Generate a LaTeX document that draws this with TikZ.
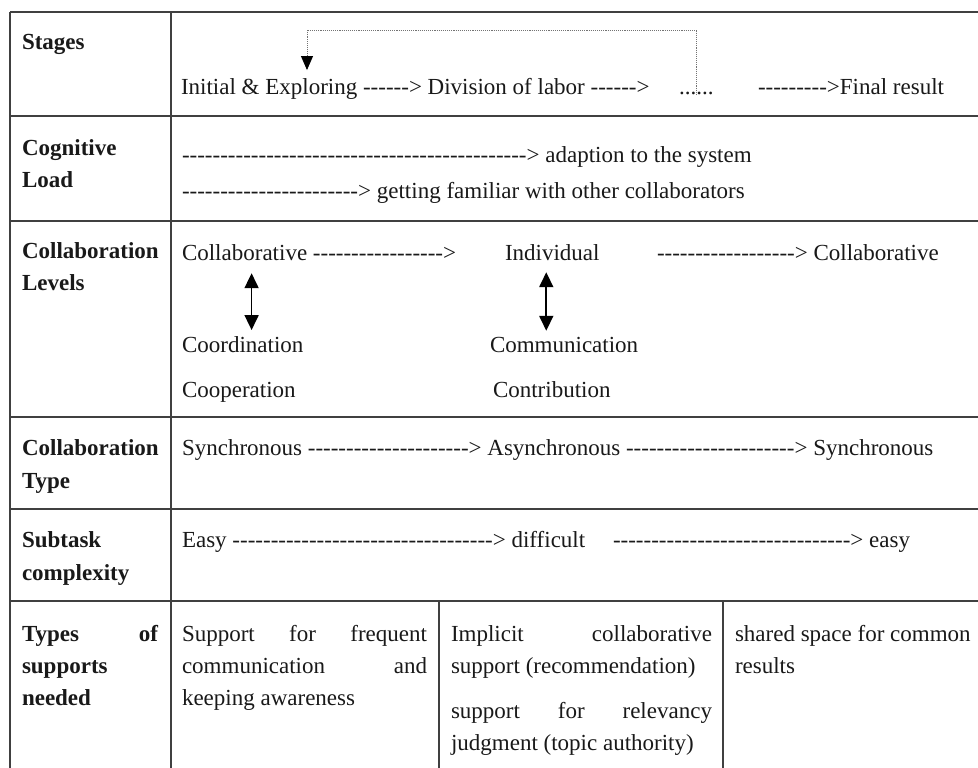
\documentclass[tikz,border=0pt]{standalone}
\usepackage{fontspec}
\setmainfont{Liberation Serif}[Ligatures=TeXOff]
\usetikzlibrary{arrows.meta}
\ExplSyntaxOn
\NewDocumentCommand\dsh{m}{\prg_replicate:nn{#1}{-}}
\ExplSyntaxOff
\begin{document}
\begin{tikzpicture}[x=1pt,y=-1pt,
  txt/.style={anchor=base west, inner sep=0pt, outer sep=0pt,
    font=\fontsize{23}{28}\selectfont, text=black!90},
  hdr/.style={txt, font=\fontsize{23}{28}\selectfont\bfseries},
  rule/.style={line width=1.5pt, draw=black!75},
  loopline/.style={densely dotted, line width=0.9pt, draw=black!55},
  vlink/.style={line width=1.8pt, draw=black,
    {Triangle[length=15pt,width=14pt]}-{Triangle[length=15pt,width=14pt]}},
]
\clip (0,0) rectangle (978,768);
\fill[white] (0,0) rectangle (978,768);

% table rules
\draw[rule] (10,12) -- (990,12);
\foreach \yy in {116,221,417,509,601} \draw[rule] (10,\yy) -- (990,\yy);
\draw[rule] (10,12) -- (10,780);
\draw[rule] (171,12) -- (171,780);
\draw[rule] (439,601) -- (439,780);
\draw[rule] (723,601) -- (723,780);

% row headings
\node[hdr] (hStages) at (22,50) {Stages};
\node[hdr] (hCogA) at (22,155) {Cognitive};
\node[hdr] (hCogB) at (22,187) {Load};
\node[hdr] (hLevA) at (22,258) {Collaboration};
\node[hdr] (hLevB) at (22,290) {Levels};
\node[hdr] (hTypA) at (22,455) {Collaboration};
\node[hdr] (hTypB) at (22,488) {Type};
\node[hdr] (hSubA) at (22,547) {Subtask};
\node[hdr] (hSubB) at (22,580) {complexity};
\node[hdr] (hSupA) at (22,641) {\makebox[136pt][s]{Types of}};
\node[hdr] (hSupB) at (22,673) {supports};
\node[hdr] (hSupC) at (22,705) {needed};

% stages
\node[txt] (init) at (181,95) {Initial \& Exploring};
\node[txt] (div) at (init.base east) {\ \dsh{6}> Division of labor \dsh{6}>};
\node[txt] (dots) at (679,95) {......};
\node[txt] (final) at (758,95) {\dsh{9}>Final result};
\coordinate (loopL) at (307,30);
\draw[loopline,-{Triangle[length=14pt,width=12pt,color=black]}]
  (dots.base) |- (loopL) -- ([yshift=9pt]loopL |- init.north);

% cognitive load
\node[txt] (adapt) at (182,162) {\dsh{45}> adaption to the system};
\node[txt] (famil) at (182,198) {\dsh{23}> getting familiar with other collaborators};

% collaboration levels
\node[txt] (collabA) at (182,260) {Collaborative};
\node[txt] (toIndiv) at (collabA.base east) {\ \dsh{17}>};
\node[txt] (indiv) at (505,260) {Individual};
\node[txt] (collabB) at (657,260) {\dsh{18}> Collaborative};
\node[txt] (coord) at (182,352) {Coordination};
\node[txt] (coop) at (182,397) {Cooperation};
\node[txt] (comm) at (490,352) {Communication};
\node[txt] (contr) at (493,397) {Contribution};
\draw[vlink] ([xshift=7pt,yshift=-13pt]collabA.south)
  -- ([xshift=7pt,yshift=6pt]collabA.south |- coord.north);
\draw[vlink] ([xshift=-6pt,yshift=-12pt]indiv.south)
  -- ([xshift=-6pt,yshift=6pt]indiv.south |- comm.north);

% collaboration type
\node[txt] (sync) at (182,455) {Synchronous \dsh{21}> Asynchronous \dsh{22}> Synchronous};

% subtask complexity
\node[txt] (easyA) at (182,547) {Easy \dsh{34}> difficult};
\node[txt] (easyB) at (613,547) {\dsh{31}> easy};

% types of supports
\node[txt] (supA) at (182,641) {\makebox[245pt][s]{Support for frequent}};
\node[txt] (supB) at (182,673) {\makebox[245pt][s]{communication and}};
\node[txt] (supC) at (182,705) {keeping awareness};
\node[txt] (implA) at (451,641) {\makebox[261pt][s]{Implicit collaborative}};
\node[txt] (implB) at (451,673) {support (recommendation)};
\node[txt] (relA) at (451,718) {\makebox[261pt][s]{support for relevancy}};
\node[txt] (relB) at (451,750) {judgment (topic authority)};
\node[txt] (shrA) at (735,641) {shared space for common};
\node[txt] (shrB) at (735,673) {results};
\end{tikzpicture}
\end{document}
